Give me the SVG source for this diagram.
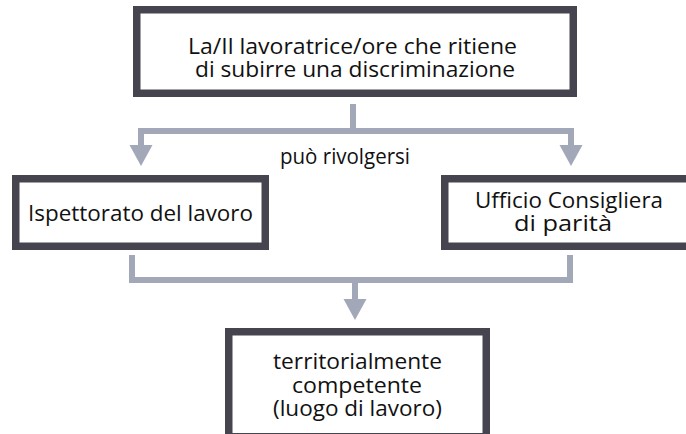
<svg xmlns="http://www.w3.org/2000/svg" width="686" height="434" viewBox="0 0 686 434">
<defs>
<style>
.box{fill:#ffffff;stroke:#45444f;stroke-width:7.5}
.con{fill:none;stroke:#a3a8b8;stroke-width:6;stroke-linejoin:miter;stroke-linecap:butt}
.t{font-family:"Open Sans","Noto Sans","DejaVu Sans",sans-serif;font-size:22px;fill:#111111;text-anchor:middle}
</style>
<marker id="arr" viewBox="0 -12 22 24" refX="0" refY="0" markerWidth="22" markerHeight="24" markerUnits="userSpaceOnUse" orient="auto">
<path d="M0,-11.5 L21,0 L0,11.5 z" fill="#a3a8b8"/>
</marker>
</defs>
<rect width="686" height="434" fill="#ffffff"/>
<g id="connectors">
<path class="con" d="M353,104 V131"/>
<path class="con" d="M353,131 H141 V145" marker-end="url(#arr)"/>
<path class="con" d="M353,131 H571 V145" marker-end="url(#arr)"/>
<path class="con" d="M132,255 V280 H570 V255"/>
<path class="con" d="M355,280 V299" marker-end="url(#arr)"/>
<text class="t" x="345" y="164" textLength="130" lengthAdjust="spacingAndGlyphs">può rivolgersi</text>
</g>
<g id="node-top">
<rect class="box" x="136.75" y="9.75" width="436.5" height="83.5"/>
<text class="t" x="352.5" y="54" textLength="329" lengthAdjust="spacingAndGlyphs">La/Il lavoratrice/ore che ritiene</text>
<text class="t" x="355" y="77" textLength="320" lengthAdjust="spacingAndGlyphs">di subirre una discriminazione</text>
</g>
<g id="node-ispettorato">
<rect class="box" x="15.75" y="178.75" width="249.5" height="67.5"/>
<text class="t" x="140.5" y="221" textLength="225" lengthAdjust="spacingAndGlyphs">Ispettorato del lavoro</text>
</g>
<g id="node-ufficio">
<rect class="box" x="444.75" y="178.75" width="246.5" height="67.5"/>
<text class="t" x="569" y="208" textLength="188" lengthAdjust="spacingAndGlyphs">Ufficio Consigliera</text>
<text class="t" x="563" y="231" textLength="98" lengthAdjust="spacingAndGlyphs">di parità</text>
</g>
<g id="node-territoriale">
<rect class="box" x="228.75" y="331.75" width="257.5" height="105"/>
<text class="t" x="357.5" y="369" textLength="169" lengthAdjust="spacingAndGlyphs">territorialmente</text>
<text class="t" x="357" y="393" textLength="130" lengthAdjust="spacingAndGlyphs">competente</text>
<text class="t" x="357.5" y="416" textLength="169" lengthAdjust="spacingAndGlyphs">(luogo di lavoro)</text>
</g>
</svg>
